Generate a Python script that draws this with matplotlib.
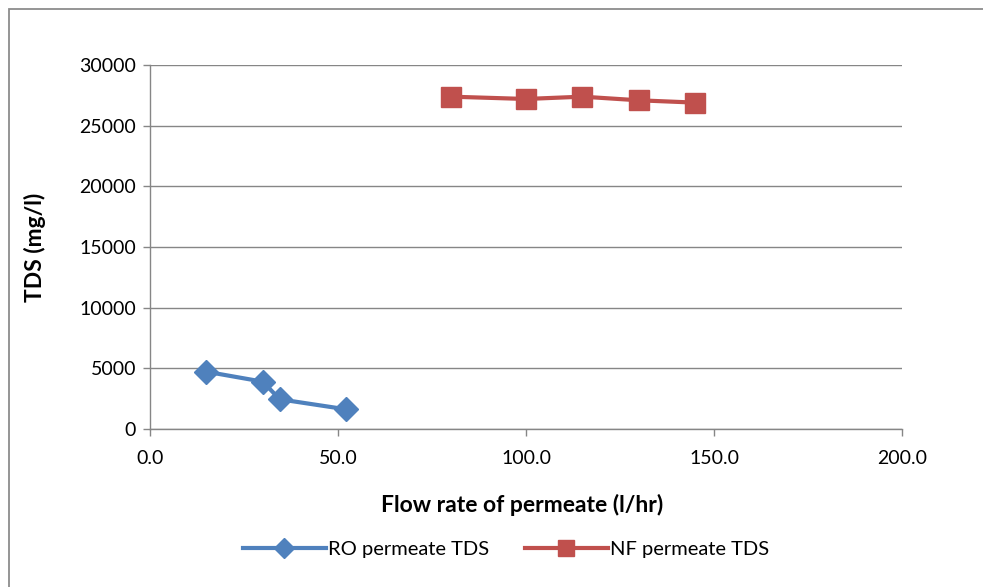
import matplotlib.pyplot as plt
from matplotlib.patches import Rectangle

plt.rcParams['font.family'] = ['Lato', 'DejaVu Sans']

# data
ro_flow = [15, 30, 34.5, 52.2]
ro_tds = [4720, 3900, 2450, 1620]
nf_flow = [80, 100, 115, 130, 145]
nf_tds = [27390, 27200, 27390, 27090, 26900]

blue = '#4F81BD'
red = '#C0504D'
grid_c = '#868686'

fig = plt.figure(figsize=(9.83, 5.87), dpi=100)
ax = fig.add_axes([150/983, 1-429/587, (902-150)/983, (429-65)/587])

ax.plot(ro_flow, ro_tds, color=blue, lw=3, marker='D', ms=12,
        label='RO permeate TDS', zorder=3)
ax.plot(nf_flow, nf_tds, color=red, lw=3, marker='s', ms=14,
        label='NF permeate TDS', zorder=3)

ax.set_xlim(0, 200)
ax.set_ylim(0, 30000)
ax.set_xticks([0, 50, 100, 150, 200])
ax.set_xticklabels(['%.1f' % v for v in [0, 50, 100, 150, 200]])
ax.set_yticks(range(0, 30001, 5000))

ax.grid(axis='y', color=grid_c, lw=1)
ax.set_axisbelow(True)
for s in ['top', 'right']:
    ax.spines[s].set_visible(False)
for s in ['left', 'bottom']:
    ax.spines[s].set_color(grid_c)
    ax.spines[s].set_linewidth(1)
ax.tick_params(axis='both', colors=grid_c, length=5, width=1, labelsize=14,
               labelcolor='black')
ax.tick_params(axis='x', pad=10)
ax.tick_params(axis='y', pad=5)

ax.set_xlabel('Flow rate of permeate (l/hr)', fontsize=16.5, fontweight='bold')
ax.set_ylabel('TDS (mg/l)', fontsize=16.5, fontweight='bold')
ax.xaxis.set_label_coords((522-150)/752, (429-494)/364)
ax.yaxis.set_label_coords((46-150)/752, 0.5)

leg = fig.legend(loc='center', bbox_to_anchor=(506/983, 1-549/587), ncol=2,
                 frameon=False, fontsize=14.5, handlelength=4.1,
                 handletextpad=0.1, columnspacing=1.8, markerscale=0.85)

# chart border (left and top visible)
fig.patches.append(Rectangle((9/983, -0.05), 1.2, 1-9/587+0.05,
                             transform=fig.transFigure, fill=False,
                             edgecolor='#8C8C8C', lw=1.3))

fig.savefig('out.png', dpi=100)
